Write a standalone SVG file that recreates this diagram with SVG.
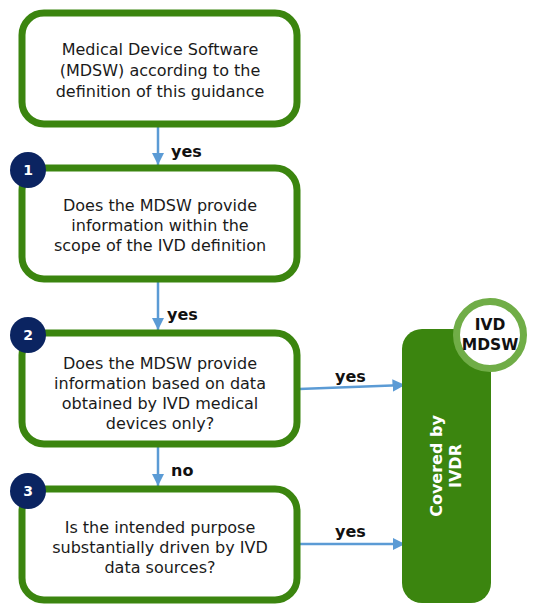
<svg xmlns="http://www.w3.org/2000/svg" width="538" height="606" viewBox="0 0 538 606">
  <defs>
    <marker id="arrow" viewBox="0 0 10 10" refX="10" refY="5" markerWidth="5" markerHeight="5" markerUnits="strokeWidth" orient="auto">
      <path d="M0,0 L10,5 L0,10 z" fill="#5b9bd5"/>
    </marker>
    <style>
      .box { fill: #ffffff; stroke: #3b850f; stroke-width: 7; }
      .txt { font-family: "DejaVu Sans", Verdana, sans-serif; font-size: 16px; fill: #1a1a1a; text-anchor: middle; }
      .lbl { font-family: "DejaVu Sans", Verdana, sans-serif; font-size: 16px; font-weight: bold; fill: #111111; }
      .badge { fill: #0b2461; }
      .num { font-family: "DejaVu Sans", Verdana, sans-serif; font-size: 14px; font-weight: bold; fill: #ffffff; text-anchor: middle; }
      .conn { stroke: #5b9bd5; stroke-width: 2.5; fill: none; marker-end: url(#arrow); }
      .white { font-family: "DejaVu Sans", Verdana, sans-serif; font-size: 16px; font-weight: bold; fill: #ffffff; text-anchor: middle; }
      .dark { font-family: "DejaVu Sans", Verdana, sans-serif; font-size: 15.5px; font-weight: bold; fill: #111111; text-anchor: middle; }
    </style>
  </defs>

  <!-- connectors -->
  <g id="connectors">
    <line class="conn" x1="158" y1="124" x2="158" y2="165"/>
    <line class="conn" x1="158" y1="280" x2="158" y2="330"/>
    <line class="conn" x1="158" y1="445" x2="158" y2="486"/>
    <line class="conn" x1="299" y1="389" x2="405" y2="385"/>
    <line class="conn" x1="299" y1="544" x2="405" y2="544"/>
    <text class="lbl" x="171" y="157">yes</text>
    <text class="lbl" x="167" y="320">yes</text>
    <text class="lbl" x="171" y="476">no</text>
    <text class="lbl" x="335" y="382">yes</text>
    <text class="lbl" x="335" y="537">yes</text>
  </g>

  <!-- start -->
  <g id="start">
    <rect class="box" x="22" y="13" width="275" height="111" rx="22"/>
    <text class="txt" x="160" y="55">Medical Device Software</text>
    <text class="txt" x="160" y="76">(MDSW) according to the</text>
    <text class="txt" x="160" y="97">definition of this guidance</text>
  </g>

  <!-- question 1 -->
  <g id="q1">
    <rect class="box" x="22" y="168" width="275" height="111" rx="22"/>
    <text class="txt" x="160" y="211">Does the MDSW provide</text>
    <text class="txt" x="160" y="231">information within the</text>
    <text class="txt" x="160" y="251">scope of the IVD definition</text>
    <circle class="badge" cx="28" cy="170" r="18"/>
    <text class="num" x="28" y="175">1</text>
  </g>

  <!-- question 2 -->
  <g id="q2">
    <rect class="box" x="22" y="333" width="275" height="111" rx="22"/>
    <text class="txt" x="160" y="369">Does the MDSW provide</text>
    <text class="txt" x="160" y="389">information based on data</text>
    <text class="txt" x="160" y="409">obtained by IVD medical</text>
    <text class="txt" x="160" y="429">devices only?</text>
    <circle class="badge" cx="28" cy="335" r="18"/>
    <text class="num" x="28" y="340">2</text>
  </g>

  <!-- question 3 -->
  <g id="q3">
    <rect class="box" x="22" y="489" width="275" height="111" rx="22"/>
    <text class="txt" x="160" y="533">Is the intended purpose</text>
    <text class="txt" x="160" y="553">substantially driven by IVD</text>
    <text class="txt" x="160" y="573">data sources?</text>
    <circle class="badge" cx="28" cy="491" r="18"/>
    <text class="num" x="28" y="496">3</text>
  </g>

  <!-- outcome -->
  <g id="covered">
    <rect x="402" y="329" width="89" height="274" rx="20" fill="#3b850f"/>
    <g transform="translate(446 466) rotate(-90)">
      <text class="white" x="0" y="-4">Covered by</text>
      <text class="white" x="0" y="15">IVDR</text>
    </g>
  </g>

  <!-- scope badge -->
  <g id="ivd-mdsw">
    <circle cx="490" cy="335" r="33.5" fill="#ffffff" stroke="#70ad47" stroke-width="7"/>
    <text class="dark" x="490" y="330">IVD</text>
    <text class="dark" x="490" y="350">MDSW</text>
  </g>
</svg>
